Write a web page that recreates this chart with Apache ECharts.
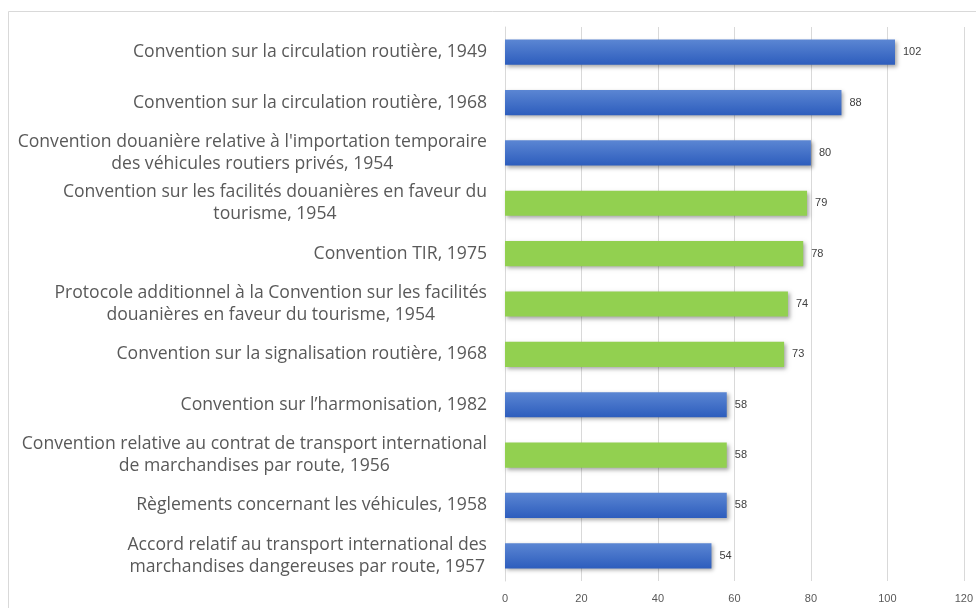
<!DOCTYPE html>
<html><head><meta charset="utf-8">
<script src="https://cdn.jsdelivr.net/npm/echarts@6/dist/echarts.min.js"></script>
<style>html,body{margin:0;padding:0;background:#fff}#c{width:976px;height:608px}</style>
</head><body><div id="c"></div>
<script>
const categories = [
  "Convention sur la circulation routière, 1949",
  "Convention sur la circulation routière, 1968",
  "Convention douanière relative à l'importation temporaire\ndes véhicules routiers privés, 1954",
  "Convention sur les facilités douanières en faveur du\ntourisme, 1954",
  "Convention TIR, 1975",
  "Protocole additionnel à la Convention sur les facilités\ndouanières en faveur du tourisme, 1954",
  "Convention sur la signalisation routière, 1968",
  "Convention sur l\u2019harmonisation, 1982",
  "Convention relative au contrat de transport international\nde marchandises par route, 1956",
  "Règlements concernant les véhicules, 1958",
  "Accord relatif au transport international des\nmarchandises dangereuses par route, 1957"
];
const values = [102, 88, 80, 79, 78, 74, 73, 58, 58, 58, 54];
const groups = ["blue","blue","blue","green","green","green","green","blue","green","blue","blue"];
const xTicks = [0, 20, 40, 60, 80, 100, 120];

const blueGrad = new echarts.graphic.LinearGradient(0,0,0,1,[{offset:0,color:'#5b86d3'},{offset:1,color:'#2d5dbd'}]);
const colorOf = g => g === 'green' ? '#92d050' : blueGrad;

const chart = echarts.init(document.getElementById('c'), null, {renderer:'canvas'});
chart.setOption({
  animation:false,
  backgroundColor:'#fff',
  graphic:[{type:'rect',shape:{x:8.5,y:11.5,width:1000,height:700},style:{fill:'none',stroke:'#d9d9d9',lineWidth:1},silent:true}],
  grid:{left:505,right:11,top:27,bottom:27,containLabel:false},
  xAxis:{type:'value',min:xTicks[0],max:xTicks[xTicks.length-1],interval:20,
    axisLine:{show:false},axisTick:{show:false},
    splitLine:{lineStyle:{color:'#d9d9d9',width:1}},
    axisLabel:{color:'#595959',fontSize:11,fontFamily:'Liberation Sans',margin:12}},
  yAxis:{type:'category',inverse:true,data:categories,
    axisLine:{show:true,lineStyle:{color:'#d9d9d9'}},axisTick:{show:false},
    axisLabel:{margin:18,color:'#595959',fontSize:17.6,fontFamily:'Open Sans',lineHeight:22,
      formatter:v=>v.split('\n').map(l=>'{c|'+l+'}').join('\n'),
      rich:{c:{align:'center',fontSize:17.6,color:'#595959',fontFamily:'Open Sans',lineHeight:22}}}},
  series:[{type:'bar',barWidth:'50%',
    data:values.map((v,i)=>({value:v,itemStyle:{color:colorOf(groups[i])}})),
    itemStyle:{shadowColor:'rgba(0,0,0,0.35)',shadowBlur:4,shadowOffsetX:2,shadowOffsetY:2},
    label:{show:true,position:'right',distance:8,color:'#404040',fontSize:11,fontFamily:'Liberation Sans'}}]
});
</script></body></html>
